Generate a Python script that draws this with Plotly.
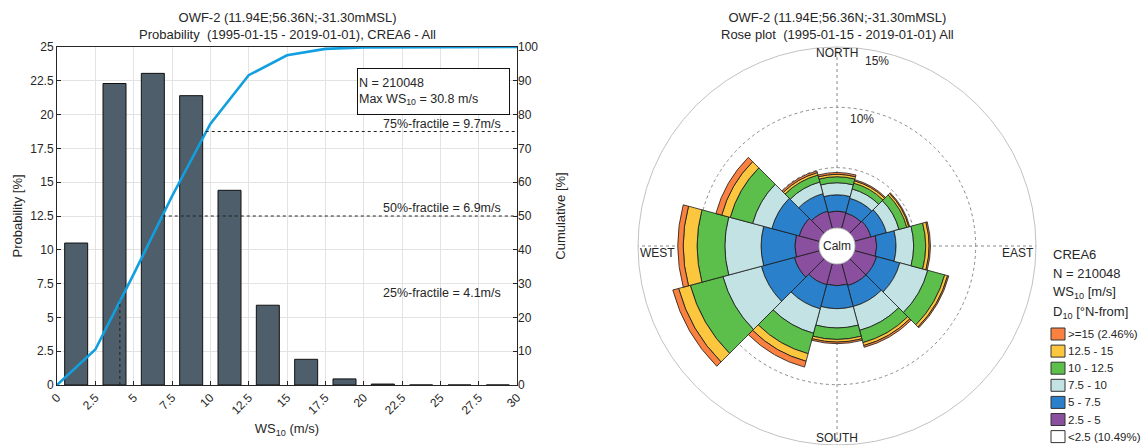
import plotly.graph_objects as go

# ---------------- data: left panel (probability histogram) ----------------
ws_bin_centers = [1.25, 3.75, 6.25, 8.75, 11.25, 13.75, 16.25, 18.75, 21.25, 23.75, 26.25, 28.75]
prob_pct = [10.5, 22.3, 23.05, 21.4, 14.4, 5.9, 1.9, 0.45, 0.07, 0.0, 0.0, 0.0]
cum_ws = [0, 2.5, 5, 7.5, 10, 12.5, 15, 17.5, 20, 22.5, 25, 27.5, 30]
cum_pct = [0, 10.5, 32.8, 55.85, 77.25, 91.65, 97.55, 99.45, 99.9, 99.97, 100, 100, 100]
fractile_pct = [25, 50, 75]
fractile_ws = [4.1, 6.9, 9.7]
x_ticks = [0, 2.5, 5, 7.5, 10, 12.5, 15, 17.5, 20, 22.5, 25, 27.5, 30]
x_ticklabels = ["0", "2.5", "5", "7.5", "10", "12.5", "15", "17.5", "20", "22.5", "25", "27.5", "30"]
yl_ticks = [0, 2.5, 5, 7.5, 10, 12.5, 15, 17.5, 20, 22.5, 25]
yl_ticklabels = ["0", "2.5", "5", "7.5", "10", "12.5", "15", "17.5", "20", "22.5", "25"]
yr_ticks = [0, 10, 20, 30, 40, 50, 60, 70, 80, 90, 100]
n_obs = 210048
max_ws = 30.8

# ---------------- data: right panel (wind rose) ----------------
directions = [0, 30, 60, 90, 120, 150, 180, 210, 240, 270, 300, 330]
bin_labels = ["2.5 - 5", "5 - 7.5", "7.5 - 10", "10 - 12.5", "12.5 - 15", ">=15 (2.46%)"]
calm_label = "<2.5 (10.49%)"
rose_2p5_5 = [1.40, 1.33, 1.42, 1.80, 1.90, 1.90, 1.80, 1.83, 2.17, 2.00, 1.75, 1.50]
rose_5_7p5 = [1.35, 1.27, 1.33, 1.60, 2.00, 1.80, 1.90, 2.07, 2.83, 2.80, 2.35, 1.50]
rose_7p5_10 = [1.00, 0.80, 1.08, 1.46, 2.40, 2.05, 1.60, 2.10, 3.30, 3.00, 1.65, 1.00]
rose_10_12p5 = [0.50, 0.50, 0.67, 1.00, 1.45, 1.05, 0.95, 1.75, 2.80, 2.30, 1.92, 0.60]
rose_12p5_15 = [0.20, 0.20, 0.17, 0.28, 0.25, 0.25, 0.22, 0.65, 1.00, 1.15, 0.73, 0.20]
rose_ge15 = [0.15, 0.10, 0.08, 0.11, 0.10, 0.15, 0.13, 0.50, 0.50, 0.45, 0.50, 0.15]
rose_bins = [rose_2p5_5, rose_5_7p5, rose_7p5_10, rose_10_12p5, rose_12p5_15, rose_ge15]
bin_colors = ["#8B4F9F", "#2B80CB", "#C2E2E3", "#5CBF4C", "#FCC63F", "#FA8140"]
rose_rings = [5, 10, 15]
legend_header = ["CREA6", "N = %d" % n_obs, "WS<sub>10</sub> [m/s]", "D<sub>10</sub> [°N-from]"]

# ---------------- layout geometry ----------------
W, H = 1144, 445
FONT = "Liberation Sans, Arial, Helvetica, sans-serif"
TXT = "#262626"
ax_l, ax_r, ax_t, ax_b = 57, 517, 47, 385
rc_x, rc_y, rc_R = 837, 246, 199
hole_px = 18

def px(xp):
    return xp / W

def py(yp):
    return 1 - yp / H

fig = go.Figure()

fig.add_trace(go.Bar(
    x=ws_bin_centers, y=prob_pct, width=1.5,
    marker=dict(color="#4E5E6A", line=dict(color="#111111", width=1)),
    xaxis="x", yaxis="y", showlegend=False, hoverinfo="skip"))

fig.add_trace(go.Scatter(
    x=cum_ws, y=cum_pct, mode="lines",
    line=dict(color="#129FDF", width=2.6),
    xaxis="x", yaxis="y2", showlegend=False, hoverinfo="skip"))

# fractile guide lines
fig.add_trace(go.Scatter(
    x=[fractile_ws[0], fractile_ws[0]], y=[0, fractile_pct[0]], mode="lines",
    line=dict(color="#222222", width=1, dash="dot"),
    xaxis="x", yaxis="y2", showlegend=False, hoverinfo="skip"))
for fw, fp in zip(fractile_ws[1:], fractile_pct[1:]):
    fig.add_trace(go.Scatter(
        x=[fw, x_ticks[-1]], y=[fp, fp], mode="lines",
        line=dict(color="#222222", width=1, dash="dot"),
        xaxis="x", yaxis="y2", showlegend=False, hoverinfo="skip"))

# wind rose (stacked)
for vals, lab, col in zip(rose_bins, bin_labels, bin_colors):
    fig.add_trace(go.Barpolar(
        r=vals, theta=directions, width=[30] * len(directions), name=lab,
        subplot="polar", hoverinfo="skip", showlegend=False,
        marker=dict(color=col, line=dict(color="#1a1a1a", width=0.8))))

axis_common = dict(showline=True, linecolor=TXT, linewidth=1, mirror=True,
                   ticks="inside", ticklen=4, tickcolor=TXT,
                   gridcolor="#E3E3E3", gridwidth=1, zeroline=False,
                   tickfont=dict(family=FONT, size=12, color=TXT), automargin=False)

fig.update_layout(
    width=W, height=H, margin=dict(l=0, r=0, t=0, b=0, autoexpand=False),
    paper_bgcolor="white", plot_bgcolor="white",
    font=dict(family=FONT, color=TXT),
    barmode="overlay", showlegend=False,
    xaxis=dict(domain=[px(ax_l), px(ax_r)], range=[0, 30], tickvals=x_ticks,
               ticktext=x_ticklabels, tickangle=-45, anchor="y",
               title=dict(text="WS<sub>10</sub> (m/s)", font=dict(size=13, color=TXT), standoff=7),
               **axis_common),
    yaxis=dict(domain=[py(ax_b), py(ax_t)], range=[0, 25], tickvals=yl_ticks,
               ticktext=yl_ticklabels, anchor="x",
               title=dict(text="Probability [%]", font=dict(size=13, color=TXT), standoff=4),
               **axis_common),
    yaxis2=dict(overlaying="y", side="right", range=[0, 100], tickvals=yr_ticks,
                anchor="x", showgrid=False, showline=False, ticks="inside", ticklen=4,
                tickcolor=TXT, zeroline=False, automargin=False,
                tickfont=dict(family=FONT, size=12, color=TXT),
                title=dict(text="Cumulative [%]", font=dict(size=13, color=TXT), standoff=18)),
    polar=dict(
        domain=dict(x=[px(rc_x - rc_R), px(rc_x + rc_R)],
                    y=[py(rc_y + rc_R), py(rc_y - rc_R)]),
        hole=hole_px / rc_R, bgcolor="white", barmode="stack",
        radialaxis=dict(range=[0, rose_rings[-1]], tickvals=rose_rings, showticklabels=False,
                        ticks="", showline=False, gridcolor="#8a8a8a", griddash="dot",
                        gridwidth=1, angle=90),
        angularaxis=dict(direction="clockwise", rotation=90, tickvals=[0, 90, 180, 270],
                         showticklabels=False, ticks="", showline=True, linecolor="#c2c2c2",
                         linewidth=1, gridcolor="#8a8a8a", griddash="dot", gridwidth=1)),
)

ann = []
shapes = []
# titles
ann.append(dict(x=px((ax_l + ax_r) / 2), y=py(8), xref="paper", yref="paper",
                xanchor="center", yanchor="top", showarrow=False,
                text="OWF-2 (11.94E;56.36N;-31.30mMSL)<br>Probability  (1995-01-15 - 2019-01-01), CREA6 - All",
                font=dict(size=13, color=TXT)))
ann.append(dict(x=px(rc_x), y=py(8), xref="paper", yref="paper",
                xanchor="center", yanchor="top", showarrow=False,
                text="OWF-2 (11.94E;56.36N;-31.30mMSL)<br>Rose plot  (1995-01-15 - 2019-01-01) All",
                font=dict(size=13, color=TXT)))
# fractile labels
for fw, fp in zip(fractile_ws, fractile_pct):
    ann.append(dict(x=29.1, y=fp, xref="x", yref="y2", xanchor="right", yanchor="bottom",
                    yshift=-1, showarrow=False, text="%d%%-fractile = %.1fm/s" % (fp, fw),
                    font=dict(size=12.5, color=TXT)))
# info box
ann.append(dict(x=px(357), y=py(68), xref="paper", yref="paper", xanchor="left", yanchor="top",
                showarrow=False, align="left", width=149, height=43, bgcolor="white",
                bordercolor="#111111", borderwidth=1, borderpad=1,
                text="N = %d<br>Max WS<sub>10</sub> = %.1f m/s" % (n_obs, max_ws),
                font=dict(size=12.5, color=TXT)))
# rose compass labels
compass = [("NORTH", rc_x, rc_y - 193, "center"), ("EAST", rc_x + 199, rc_y + 7, "right"),
           ("SOUTH", rc_x, rc_y + 192, "center"), ("WEST", rc_x - 199, rc_y + 7, "left")]
for t, xx, yy, xa in compass:
    ann.append(dict(x=px(xx), y=py(yy), xref="paper", yref="paper", xanchor=xa,
                    yanchor="middle", showarrow=False, text=t, font=dict(size=12, color=TXT)))
for t, xx, yy in [("15%", rc_x + 40, rc_y - 185), ("10%", rc_x + 25, rc_y - 127)]:
    ann.append(dict(x=px(xx), y=py(yy), xref="paper", yref="paper", xanchor="center",
                    yanchor="middle", showarrow=False, text=t, font=dict(size=12, color=TXT)))
ann.append(dict(x=px(rc_x), y=py(rc_y), xref="paper", yref="paper", xanchor="center",
                yanchor="middle", showarrow=False, text="Calm", font=dict(size=12, color=TXT)))

# legend (header + swatches), outermost bin first, calm last
leg_x = 1051
for i, line in enumerate(legend_header):
    ann.append(dict(x=px(leg_x), y=py([255, 273, 292, 312][i]), xref="paper", yref="paper",
                    xanchor="left", yanchor="middle", showarrow=False, text=line,
                    font=dict(size=13, color=TXT)))
leg_names = list(reversed(bin_labels)) + [calm_label]
leg_cols = list(reversed(bin_colors)) + ["white"]
for i, (nm, col) in enumerate(zip(leg_names, leg_cols)):
    yc = 334 + i * 17.1
    shapes.append(dict(type="rect", xref="paper", yref="paper",
                       x0=px(leg_x), x1=px(leg_x + 14), y0=py(yc + 6), y1=py(yc - 6),
                       fillcolor=col, line=dict(color="#333333", width=1)))
    ann.append(dict(x=px(leg_x + 15), y=py(yc), xref="paper", yref="paper", xanchor="left",
                    yanchor="middle", showarrow=False, text=nm, font=dict(size=11.5, color=TXT)))

fig.update_layout(annotations=ann, shapes=shapes)

fig.write_html(
    "out.html",
    post_script="document.documentElement.style.margin='0';document.body.style.margin='0';"
                "document.body.style.padding='0';document.body.style.overflow='hidden';"
                "document.documentElement.style.overflow='hidden';")
